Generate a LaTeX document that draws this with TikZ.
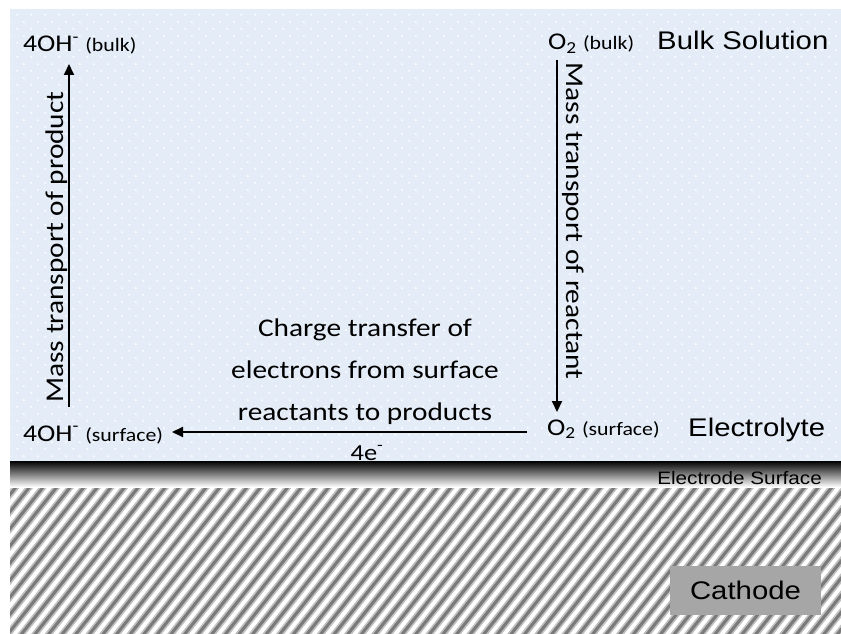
\documentclass[tikz,border=0pt]{standalone}
\usepackage{fontspec}
\setmainfont{Carlito}[FakeStretch=1.15]
\newfontfamily\arialfont{Liberation Sans}[FakeStretch=1.15]
\usepackage{tikz}
\usetikzlibrary{arrows.meta,patterns.meta}

\definecolor{solution}{RGB}{228,236,247}
\definecolor{stripegray}{RGB}{122,122,122}
\definecolor{stripehalo}{RGB}{192,192,192}
\definecolor{boxgray}{RGB}{166,166,166}

\tikzdeclarepattern{
  name=sparkle,
  type=uncolored,
  bottom left={(0pt,0pt)},
  top right={(14pt,14pt)},
  tile size={(14pt,14pt)},
  code={
    \fill (3.5pt,3.5pt) circle (1.1pt);
    \fill (10.5pt,10.5pt) circle (1.1pt);
  }
}

\begin{document}
\begin{tikzpicture}[x=1pt,y=-1pt,
  flow/.style={line width=2pt,-{Triangle[length=11pt,width=10pt]}},
  big/.style={font=\fontsize{25.5}{42}\selectfont,inner sep=0pt},
  chem/.style={font=\fontsize{24}{28}\selectfont,anchor=base west,inner sep=0pt},
  place/.style={font=\arialfont\fontsize{25.5}{30}\selectfont,inner sep=0pt},
  halo/.style={line width=6.5pt,stripehalo},
  stripe/.style={line width=3pt,stripegray}]
\useasboundingbox (0,0) rectangle (841,634);
\fill[solution] (10,9) rectangle (841,461);
\fill[pattern=sparkle,pattern color=white] (10,9) rectangle (841,461);
\shade[top color=black,bottom color=white] (10,461) rectangle (841,487);
\begin{scope}
  \clip (10,488) rectangle (841,634);
  \foreach \x in {-160,-146.4,...,841}{
    \draw[halo] (\x,640) -- ++(124,-156);
    \draw[stripe] (\x,640) -- ++(124,-156);
  }
\end{scope}

\node[chem] (OHb) at (23,52) {4OH\textsuperscript{-} {\fontsize{19}{20}\selectfont(bulk)}};
\node[chem] (O2b) at (548,50) {O\textsubscript{2} {\fontsize{19}{20}\selectfont(bulk)}};
\node[place,anchor=base west] (BS) at (657,50) {Bulk Solution};
\node[chem] (OHs) at (23,441) {4OH\textsuperscript{-} {\fontsize{19}{20}\selectfont(surface)}};
\node[chem] (O2s) at (547,435) {O\textsubscript{2} {\fontsize{19}{20}\selectfont(surface)}};
\node[place,anchor=base west] (EL) at (688,436) {Electrolyte};
\node[font=\arialfont\fontsize{18}{22}\selectfont,anchor=base east,inner sep=0pt] (ES) at (822,484) {Electrode Surface};
\node[place,fill=boxgray,minimum width=151pt,minimum height=49pt] (CA) at (745.5,590.5) {Cathode};

\node[big,rotate=90,anchor=base] (MP) at (63,247) {Mass transport of product};
\node[big,rotate=-90,anchor=base] (MR) at (566,221) {Mass transport of reactant};
\node[big,align=center,anchor=north] (CTX) at (365,319) {Charge transfer of\\electrons from surface\\reactants to products};
\node[font=\fontsize{23}{26}\selectfont,anchor=base,inner sep=0pt] (E4) at (367,460) {4e\textsuperscript{-}};

\coordinate (PL) at (69,407);
\coordinate (PH) at (69,64);
\coordinate (RH) at (557,60);
\coordinate (RL) at (557,412);
\coordinate (CT) at (527,432);
\coordinate (CS) at (172,432);
\draw[flow] (PL) -- (PH);
\draw[flow] (RH) -- (RL);
\draw[flow] (CT) -- (CS);
\end{tikzpicture}
\end{document}
